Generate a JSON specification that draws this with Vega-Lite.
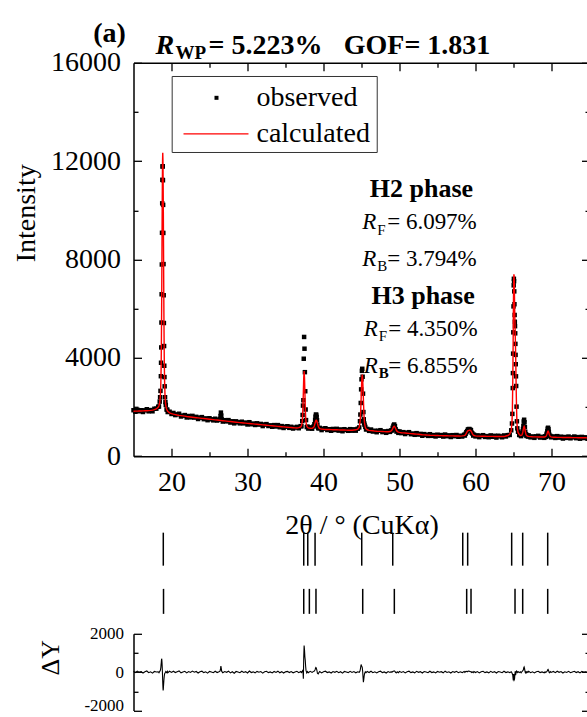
{
  "$schema": "https://vega.github.io/schema/vega-lite/v6.json",
  "padding": {"left": 12.5, "top": 19.8, "right": 0, "bottom": 0},
  "background": "white",
  "config": {
    "view": {"stroke": null},
    "font": "Liberation Serif, Times New Roman, serif",
    "axis": {"grid": false, "domainColor": "black", "tickColor": "black", "labelColor": "black", "titleColor": "black", "labelFont": "Liberation Serif, Times New Roman, serif", "titleFont": "Liberation Serif, Times New Roman, serif", "titleFontWeight": "normal", "domainWidth": 1.5, "tickWidth": 1.3},
    "text": {"font": "Liberation Serif, Times New Roman, serif", "color": "black"}
  },
  "datasets": {
    "xrd": [
      {"x":15,"o":1870,"c":1830,"d":40},{"x":15.25,"o":1807,"c":1832,"d":-25},{"x":15.5,"o":1890,"c":1835,"d":55},{"x":15.75,"o":1827,"c":1837,"d":-10},
      {"x":16,"o":1870,"c":1840,"d":30},{"x":16.25,"o":1798,"c":1843,"d":-45},{"x":16.5,"o":1866,"c":1846,"d":20},{"x":16.75,"o":1909,"c":1849,"d":60},
      {"x":17,"o":1825,"c":1855,"d":-30},{"x":17.25,"o":1877,"c":1862,"d":15},{"x":17.5,"o":1826,"c":1876,"d":-50},{"x":17.75,"o":1929,"c":1894,"d":35},
      {"x":18,"o":1933,"c":1923,"d":10},{"x":18.25,"o":2008,"c":1988,"d":20},{"x":18.35,"o":2023,"c":2053,"d":-30},{"x":18.45,"o":2220,"c":2180,"d":40},
      {"x":18.5,"o":2399,"c":2339,"d":60},{"x":18.55,"o":2657,"c":2537,"d":120},{"x":18.6,"o":3253,"c":3003,"d":250},{"x":18.625,"o":3801,"c":3421,"d":380},
      {"x":18.65,"o":4424,"c":3944,"d":480},{"x":18.675,"o":5436,"c":4836,"d":600},{"x":18.7,"o":6586,"c":5886,"d":700},{"x":18.725,"o":7797,"c":7147,"d":650},
      {"x":18.75,"o":9086,"c":8566,"d":520},{"x":18.775,"o":10284,"c":9984,"d":300},{"x":18.8,"o":11242,"c":11192,"d":50},{"x":18.825,"o":11781,"c":12031,"d":-250},
      {"x":18.85,"o":11793,"c":12343,"d":-550},{"x":18.875,"o":11223,"c":12023,"d":-800},{"x":18.9,"o":10221,"c":11176,"d":-955},{"x":18.925,"o":9080,"c":9960,"d":-880},
      {"x":18.95,"o":7813,"c":8533,"d":-720},{"x":18.975,"o":6546,"c":7106,"d":-560},{"x":19,"o":5417,"c":5837,"d":-420},{"x":19.025,"o":4479,"c":4779,"d":-300},
      {"x":19.05,"o":3679,"c":3879,"d":-200},{"x":19.075,"o":3218,"c":3348,"d":-130},{"x":19.1,"o":2842,"c":2922,"d":-80},{"x":19.15,"o":2399,"c":2439,"d":-40},
      {"x":19.2,"o":2200,"c":2220,"d":-20},{"x":19.25,"o":2084,"c":2054,"d":30},{"x":19.35,"o":1898,"c":1918,"d":-20},{"x":19.45,"o":1890,"c":1850,"d":40},
      {"x":19.5,"o":1796,"c":1826,"d":-30},{"x":19.75,"o":1809,"c":1764,"d":45},{"x":20,"o":1717,"c":1732,"d":-15},
      {"x":20.25,"o":1759,"c":1709,"d":50},{"x":20.5,"o":1672,"c":1692,"d":-20},{"x":20.75,"o":1701,"c":1676,"d":25},{"x":21,"o":1727,"c":1662,"d":65},
      {"x":21.25,"o":1615,"c":1650,"d":-35},{"x":21.5,"o":1649,"c":1639,"d":10},{"x":21.75,"o":1673,"c":1628,"d":45},{"x":22,"o":1575,"c":1615,"d":-40},
      {"x":22.25,"o":1635,"c":1605,"d":30},{"x":22.5,"o":1580,"c":1595,"d":-15},{"x":22.75,"o":1640,"c":1585,"d":55},{"x":23,"o":1570,"c":1575,"d":-5},
      {"x":23.25,"o":1601,"c":1566,"d":35},{"x":23.5,"o":1513,"c":1558,"d":-45},{"x":23.75,"o":1569,"c":1549,"d":20},{"x":24,"o":1590,"c":1540,"d":50},
      {"x":24.25,"o":1506,"c":1531,"d":-25},{"x":24.5,"o":1538,"c":1523,"d":15},{"x":24.75,"o":1464,"c":1514,"d":-50},{"x":25,"o":1545,"c":1505,"d":40},
      {"x":25.25,"o":1501,"c":1496,"d":5},{"x":25.5,"o":1458,"c":1488,"d":-30},{"x":25.75,"o":1524,"c":1479,"d":45},{"x":26,"o":1450,"c":1470,"d":-20},
      {"x":26.25,"o":1486,"c":1461,"d":25},{"x":26.4,"o":1516,"c":1456,"d":60},{"x":26.45,"o":1634,"c":1454,"d":180},{"x":26.5,"o":1773,"c":1453,"d":320},
      {"x":26.55,"o":1651,"c":1451,"d":200},{"x":26.6,"o":1499,"c":1449,"d":50},{"x":26.75,"o":1409,"c":1444,"d":-35},{"x":27,"o":1465,"c":1435,"d":30},
      {"x":27.25,"o":1416,"c":1426,"d":-10},{"x":27.5,"o":1468,"c":1418,"d":50},{"x":27.75,"o":1369,"c":1409,"d":-40},{"x":28,"o":1420,"c":1400,"d":20},
      {"x":28.25,"o":1336,"c":1391,"d":-55},{"x":28.5,"o":1418,"c":1383,"d":35},{"x":28.75,"o":1379,"c":1374,"d":5},{"x":29,"o":1335,"c":1365,"d":-30},
      {"x":29.25,"o":1403,"c":1358,"d":45},{"x":29.5,"o":1335,"c":1350,"d":-15},{"x":29.75,"o":1368,"c":1343,"d":25},{"x":30,"o":1290,"c":1335,"d":-45},
      {"x":30.25,"o":1383,"c":1328,"d":55},{"x":30.5,"o":1300,"c":1320,"d":-20},{"x":30.75,"o":1328,"c":1313,"d":15},{"x":31,"o":1270,"c":1305,"d":-35},
      {"x":31.25,"o":1338,"c":1298,"d":40},{"x":31.5,"o":1285,"c":1290,"d":-5},{"x":31.75,"o":1313,"c":1283,"d":30},{"x":32,"o":1225,"c":1275,"d":-50},
      {"x":32.25,"o":1288,"c":1268,"d":20},{"x":32.5,"o":1305,"c":1260,"d":45},{"x":32.75,"o":1228,"c":1253,"d":-25},{"x":33,"o":1255,"c":1245,"d":10},
      {"x":33.25,"o":1198,"c":1238,"d":-40},{"x":33.5,"o":1265,"c":1230,"d":35},{"x":33.75,"o":1208,"c":1223,"d":-15},{"x":34,"o":1265,"c":1215,"d":50},
      {"x":34.25,"o":1178,"c":1208,"d":-30},{"x":34.5,"o":1225,"c":1200,"d":25},{"x":34.75,"o":1148,"c":1193,"d":-45},{"x":35,"o":1200,"c":1185,"d":15},
      {"x":35.25,"o":1219,"c":1179,"d":40},{"x":35.5,"o":1153,"c":1173,"d":-20},{"x":35.75,"o":1196,"c":1166,"d":30},{"x":36,"o":1125,"c":1160,"d":-35},
      {"x":36.25,"o":1164,"c":1154,"d":10},{"x":36.5,"o":1193,"c":1148,"d":45},{"x":36.75,"o":1137,"c":1162,"d":-25},{"x":37,"o":1221,"c":1191,"d":30},
      {"x":37.1,"o":1218,"c":1238,"d":-20},{"x":37.2,"o":1428,"c":1388,"d":40},{"x":37.25,"o":1677,"c":1597,"d":80},{"x":37.3,"o":2058,"c":2028,"d":30},
      {"x":37.35,"o":2277,"c":2622,"d":-345},{"x":37.4,"o":3964,"c":3204,"d":760},{"x":37.45,"o":4850,"c":3460,"d":1390},{"x":37.5,"o":4372,"c":3202,"d":1170},
      {"x":37.55,"o":3418,"c":2618,"d":800},{"x":37.6,"o":2642,"c":2022,"d":620},{"x":37.65,"o":1899,"c":1589,"d":310},{"x":37.7,"o":1468,"c":1378,"d":90},
      {"x":37.8,"o":1184,"c":1224,"d":-40},{"x":37.9,"o":1203,"c":1173,"d":30},{"x":38,"o":1124,"c":1154,"d":-30},{"x":38.25,"o":1174,"c":1134,"d":40},
      {"x":38.5,"o":1118,"c":1133,"d":-15},{"x":38.7,"o":1210,"c":1170,"d":40},{"x":38.8,"o":1299,"c":1239,"d":60},{"x":38.9,"o":1478,"c":1348,"d":130},
      {"x":38.95,"o":1608,"c":1408,"d":200},{"x":39,"o":1691,"c":1451,"d":240},{"x":39.05,"o":1683,"c":1463,"d":220},{"x":39.1,"o":1598,"c":1448,"d":150},
      {"x":39.15,"o":1463,"c":1403,"d":60},{"x":39.2,"o":1281,"c":1341,"d":-60},{"x":39.3,"o":1139,"c":1229,"d":-90},{"x":39.4,"o":1135,"c":1155,"d":-20},
      {"x":39.5,"o":1152,"c":1122,"d":30},{"x":39.75,"o":1062,"c":1102,"d":-40},{"x":40,"o":1119,"c":1094,"d":25},{"x":40.25,"o":1138,"c":1088,"d":50},
      {"x":40.5,"o":1065,"c":1085,"d":-20},{"x":40.75,"o":1098,"c":1083,"d":15},{"x":41,"o":1035,"c":1080,"d":-45},{"x":41.25,"o":1108,"c":1078,"d":30},
      {"x":41.5,"o":1065,"c":1075,"d":-10},{"x":41.75,"o":1113,"c":1073,"d":40},{"x":42,"o":1040,"c":1070,"d":-30},{"x":42.25,"o":1088,"c":1068,"d":20},
      {"x":42.5,"o":1015,"c":1065,"d":-50},{"x":42.75,"o":1098,"c":1063,"d":35},{"x":43,"o":1065,"c":1060,"d":5},{"x":43.25,"o":1033,"c":1058,"d":-25},
      {"x":43.5,"o":1100,"c":1055,"d":45},{"x":43.75,"o":1038,"c":1053,"d":-15},{"x":44,"o":1093,"c":1063,"d":30},{"x":44.25,"o":1038,"c":1073,"d":-35},
      {"x":44.5,"o":1117,"c":1097,"d":20},{"x":44.7,"o":1170,"c":1180,"d":-10},{"x":44.8,"o":1421,"c":1361,"d":60},{"x":44.85,"o":1694,"c":1544,"d":150},
      {"x":44.9,"o":2165,"c":1885,"d":280},{"x":44.95,"o":2718,"c":2318,"d":400},{"x":45,"o":3126,"c":2796,"d":330},{"x":45.05,"o":3472,"c":3172,"d":300},
      {"x":45.1,"o":3555,"c":3320,"d":235},{"x":45.15,"o":3232,"c":3172,"d":60},{"x":45.2,"o":2544,"c":2794,"d":-250},{"x":45.25,"o":1795,"c":2315,"d":-520},
      {"x":45.3,"o":1501,"c":1881,"d":-380},{"x":45.35,"o":1339,"c":1539,"d":-200},{"x":45.4,"o":1275,"c":1355,"d":-80},{"x":45.5,"o":1192,"c":1172,"d":20},
      {"x":45.6,"o":1086,"c":1116,"d":-30},{"x":45.75,"o":1109,"c":1074,"d":35},{"x":46,"o":1031,"c":1051,"d":-20},{"x":46.25,"o":1085,"c":1040,"d":45},
      {"x":46.5,"o":1003,"c":1033,"d":-30},{"x":46.75,"o":1036,"c":1021,"d":15},{"x":47,"o":975,"c":1015,"d":-40},{"x":47.25,"o":1036,"c":1011,"d":25},
      {"x":47.5,"o":1058,"c":1008,"d":50},{"x":47.75,"o":979,"c":1004,"d":-25},{"x":48,"o":1010,"c":1000,"d":10},{"x":48.25,"o":951,"c":996,"d":-45},
      {"x":48.5,"o":1023,"c":993,"d":30},{"x":48.75,"o":989,"c":1004,"d":-15},{"x":48.9,"o":1046,"c":1026,"d":20},{"x":49,"o":1050,"c":1060,"d":-10},
      {"x":49.1,"o":1153,"c":1123,"d":30},{"x":49.2,"o":1241,"c":1191,"d":50},{"x":49.3,"o":1290,"c":1220,"d":70},{"x":49.4,"o":1226,"c":1186,"d":40},
      {"x":49.5,"o":1093,"c":1113,"d":-20},{"x":49.6,"o":1005,"c":1045,"d":-40},{"x":49.7,"o":1022,"c":1007,"d":15},{"x":49.85,"o":949,"c":979,"d":-30},
      {"x":50,"o":1008,"c":968,"d":40},{"x":50.25,"o":939,"c":954,"d":-15},{"x":50.5,"o":978,"c":948,"d":30},{"x":50.75,"o":901,"c":941,"d":-40},
      {"x":51,"o":955,"c":935,"d":20},{"x":51.25,"o":978,"c":928,"d":50},{"x":51.5,"o":895,"c":920,"d":-25},{"x":51.75,"o":923,"c":913,"d":10},
      {"x":52,"o":870,"c":905,"d":-35},{"x":52.25,"o":938,"c":898,"d":40},{"x":52.5,"o":880,"c":890,"d":-10},{"x":52.75,"o":908,"c":883,"d":25},
      {"x":53,"o":830,"c":875,"d":-45},{"x":53.25,"o":899,"c":869,"d":30},{"x":53.5,"o":868,"c":863,"d":5},{"x":53.75,"o":826,"c":856,"d":-30},
      {"x":54,"o":895,"c":850,"d":45},{"x":54.25,"o":828,"c":848,"d":-20},{"x":54.5,"o":860,"c":845,"d":15},{"x":54.75,"o":803,"c":843,"d":-40},
      {"x":55,"o":875,"c":840,"d":35},{"x":55.25,"o":833,"c":838,"d":-5},{"x":55.5,"o":860,"c":835,"d":25},{"x":55.75,"o":798,"c":833,"d":-35},
      {"x":56,"o":880,"c":830,"d":50},{"x":56.25,"o":814,"c":829,"d":-15},{"x":56.5,"o":848,"c":828,"d":20},{"x":56.75,"o":781,"c":826,"d":-45},
      {"x":57,"o":855,"c":825,"d":30},{"x":57.25,"o":813,"c":823,"d":-10},{"x":57.5,"o":862,"c":822,"d":40},{"x":57.75,"o":790,"c":820,"d":-30},
      {"x":58,"o":833,"c":818,"d":15},{"x":58.25,"o":800,"c":825,"d":-25},{"x":58.5,"o":870,"c":835,"d":35},{"x":58.6,"o":840,"c":850,"d":-10},
      {"x":58.7,"o":910,"c":880,"d":30},{"x":58.8,"o":975,"c":935,"d":40},{"x":58.9,"o":1020,"c":1000,"d":20},{"x":59,"o":1085,"c":1035,"d":50},
      {"x":59.1,"o":1100,"c":1040,"d":60},{"x":59.2,"o":1105,"c":1060,"d":45},{"x":59.3,"o":1075,"c":1055,"d":20},{"x":59.4,"o":1060,"c":1030,"d":30},
      {"x":59.5,"o":955,"c":975,"d":-20},{"x":59.6,"o":920,"c":910,"d":10},{"x":59.7,"o":840,"c":865,"d":-25},{"x":59.8,"o":875,"c":840,"d":35},
      {"x":60,"o":805,"c":825,"d":-20},{"x":60.25,"o":848,"c":818,"d":30},{"x":60.5,"o":775,"c":815,"d":-40},{"x":60.75,"o":833,"c":813,"d":20},
      {"x":61,"o":855,"c":810,"d":45},{"x":61.25,"o":784,"c":809,"d":-25},{"x":61.5,"o":818,"c":808,"d":10},{"x":61.75,"o":772,"c":807,"d":-35},
      {"x":62,"o":846,"c":806,"d":40},{"x":62.25,"o":790,"c":805,"d":-15},{"x":62.5,"o":829,"c":804,"d":25},{"x":62.75,"o":758,"c":803,"d":-45},
      {"x":63,"o":832,"c":802,"d":30},{"x":63.25,"o":806,"c":801,"d":5},{"x":63.5,"o":770,"c":800,"d":-30},{"x":63.75,"o":844,"c":799,"d":45},
      {"x":64,"o":802,"c":822,"d":-20},{"x":64.25,"o":856,"c":841,"d":15},{"x":64.5,"o":864,"c":889,"d":-25},{"x":64.7,"o":1053,"c":1033,"d":20},
      {"x":64.8,"o":1330,"c":1370,"d":-40},{"x":64.85,"o":1721,"c":1821,"d":-100},{"x":64.9,"o":2771,"c":2921,"d":-150},{"x":64.925,"o":3379,"c":3629,"d":-250},
      {"x":64.95,"o":4172,"c":4522,"d":-350},{"x":64.975,"o":5038,"c":5468,"d":-430},{"x":65,"o":6093,"c":6393,"d":-300},{"x":65.025,"o":6949,"c":7049,"d":-100},
      {"x":65.05,"o":7215,"c":7395,"d":-180},{"x":65.075,"o":7118,"c":7368,"d":-250},{"x":65.1,"o":6703,"c":7103,"d":-400},{"x":65.125,"o":6181,"c":6561,"d":-380},
      {"x":65.15,"o":5744,"c":6044,"d":-300},{"x":65.175,"o":5468,"c":5618,"d":-150},{"x":65.2,"o":5288,"c":5348,"d":-60},{"x":65.225,"o":4997,"c":4947,"d":50},
      {"x":65.25,"o":4568,"c":4648,"d":-80},{"x":65.275,"o":4121,"c":4271,"d":-150},{"x":65.3,"o":3741,"c":3841,"d":-100},{"x":65.325,"o":3249,"c":3299,"d":-50},
      {"x":65.35,"o":2855,"c":2815,"d":40},{"x":65.4,"o":2015,"c":1955,"d":60},{"x":65.45,"o":1419,"c":1399,"d":20},{"x":65.5,"o":1133,"c":1153,"d":-20},
      {"x":65.6,"o":995,"c":965,"d":30},{"x":65.75,"o":863,"c":888,"d":-25},{"x":65.9,"o":860,"c":840,"d":20},{"x":66,"o":816,"c":846,"d":-30},
      {"x":66.1,"o":888,"c":863,"d":25},{"x":66.15,"o":932,"c":892,"d":40},{"x":66.2,"o":1003,"c":943,"d":60},{"x":66.25,"o":1106,"c":1016,"d":90},
      {"x":66.3,"o":1226,"c":1106,"d":120},{"x":66.35,"o":1411,"c":1181,"d":230},{"x":66.4,"o":1483,"c":1213,"d":270},{"x":66.45,"o":1380,"c":1180,"d":200},
      {"x":66.5,"o":1183,"c":1103,"d":80},{"x":66.55,"o":991,"c":1011,"d":-20},{"x":66.6,"o":896,"c":936,"d":-40},{"x":66.65,"o":893,"c":883,"d":10},
      {"x":66.7,"o":825,"c":850,"d":-25},{"x":66.8,"o":855,"c":825,"d":30},{"x":66.9,"o":797,"c":812,"d":-15},{"x":67,"o":845,"c":805,"d":40},
      {"x":67.25,"o":767,"c":797,"d":-30},{"x":67.5,"o":805,"c":790,"d":15},{"x":67.75,"o":747,"c":787,"d":-40},{"x":68,"o":809,"c":784,"d":25},
      {"x":68.25,"o":827,"c":782,"d":45},{"x":68.5,"o":759,"c":779,"d":-20},{"x":68.75,"o":788,"c":778,"d":10},{"x":69.05,"o":747,"c":782,"d":-35},
      {"x":69.15,"o":807,"c":787,"d":20},{"x":69.25,"o":786,"c":801,"d":-15},{"x":69.35,"o":881,"c":851,"d":30},{"x":69.4,"o":937,"c":897,"d":40},
      {"x":69.45,"o":1012,"c":952,"d":60},{"x":69.5,"o":1117,"c":997,"d":120},{"x":69.55,"o":1157,"c":1017,"d":140},{"x":69.6,"o":1097,"c":997,"d":100},
      {"x":69.65,"o":991,"c":951,"d":40},{"x":69.7,"o":875,"c":895,"d":-20},{"x":69.75,"o":819,"c":849,"d":-30},{"x":69.85,"o":823,"c":798,"d":25},
      {"x":69.95,"o":768,"c":783,"d":-15},{"x":70.25,"o":804,"c":769,"d":35},{"x":70.5,"o":743,"c":768,"d":-25},{"x":70.75,"o":816,"c":766,"d":50},
      {"x":71,"o":755,"c":765,"d":-10},{"x":71.25,"o":794,"c":764,"d":30},{"x":71.5,"o":718,"c":763,"d":-45},{"x":71.75,"o":781,"c":761,"d":20},
      {"x":72,"o":745,"c":760,"d":-15},{"x":72.25,"o":799,"c":759,"d":40},{"x":72.5,"o":728,"c":758,"d":-30},{"x":72.75,"o":766,"c":756,"d":10},
      {"x":73,"o":800,"c":755,"d":45},{"x":73.25,"o":734,"c":754,"d":-20},{"x":73.5,"o":778,"c":753,"d":25},{"x":73.75,"o":711,"c":751,"d":-40},
      {"x":74,"o":785,"c":750,"d":35},{"x":74.25,"o":739,"c":749,"d":-10},{"x":74.5,"o":768,"c":748,"d":20},{"x":74.75,"o":711,"c":746,"d":-35},
      {"x":75,"o":775,"c":745,"d":30}
    ],
    "refl": [
      {"phase":"H2","x":18.92},{"phase":"H2","x":37.4},{"phase":"H2","x":37.93},{"phase":"H2","x":38.89},{"phase":"H2","x":45.03},{"phase":"H2","x":49.11},
      {"phase":"H2","x":58.32},{"phase":"H2","x":58.97},{"phase":"H2","x":64.76},{"phase":"H2","x":66.21},{"phase":"H2","x":69.5},
      {"phase":"H3","x":18.95},{"phase":"H3","x":37.4},{"phase":"H3","x":38.14},{"phase":"H3","x":39.01},{"phase":"H3","x":45.16},{"phase":"H3","x":49.32},
      {"phase":"H3","x":58.84},{"phase":"H3","x":59.41},{"phase":"H3","x":65.2},{"phase":"H3","x":66.21},{"phase":"H3","x":69.5}
    ]
  },
  "spacing": 10,
  "bounds": "flush",
  "vconcat": [
    {
      "width": 456,
      "height": 393.4,
      "data": {"name": "xrd"},
      "layer": [
        {
          "mark": {"type": "point", "shape": "square", "filled": true, "size": 20, "color": "black", "opacity": 1, "strokeWidth": 0},
          "encoding": {
            "x": {"field": "x", "type": "quantitative", "scale": {"domain": [15, 75], "nice": false, "zero": false},
              "axis": {"orient": "bottom", "values": [20, 30, 40, 50, 60, 70], "tickSize": -8, "labelFontSize": 28, "labelPadding": 20, "labelFlush": false, "format": "d",
                "title": "2θ / ° (CuKα)", "titleFontSize": 28, "titleX": 228, "titleY": 77, "titleBaseline": "alphabetic", "titleAlign": "center"}},
            "y": {"field": "o", "type": "quantitative", "scale": {"domain": [0, 16000], "nice": false, "zero": false},
              "axis": {"orient": "left", "values": [0, 4000, 8000, 12000, 16000], "tickSize": -8, "labelFontSize": 28, "labelPadding": 21, "format": "d",
                "title": "Intensity", "titleFontSize": 28, "titleX": -107, "titleY": 150, "titleAngle": -90, "titleAlign": "center", "titleBaseline": "middle"}}
          }
        },
        {
          "mark": {"type": "line", "color": "#ff0000", "strokeWidth": 1.4},
          "encoding": {
            "x": {"field": "x", "type": "quantitative", "scale": {"domain": [15, 75], "nice": false, "zero": false},
              "axis": {"orient": "top", "values": [20, 30, 40, 50, 60, 70], "tickSize": -8, "labels": false, "title": null}},
            "y": {"field": "c", "type": "quantitative", "scale": {"domain": [0, 16000], "nice": false, "zero": false},
              "axis": {"orient": "right", "values": [0, 4000, 8000, 12000, 16000], "tickSize": -8, "labels": false, "title": null}}
          }
        },
        {
          "data": {"values": [{}]},
          "mark": {"type": "point", "opacity": 0},
          "encoding": {
            "x": {"datum": 15, "type": "quantitative", "scale": {"domain": [15, 75], "nice": false, "zero": false},
              "axis": {"orient": "bottom", "values": [25, 35, 45, 55, 65], "tickSize": -4.5, "labels": false, "domain": false, "title": null}},
            "y": {"datum": 0, "type": "quantitative", "scale": {"domain": [0, 16000], "nice": false, "zero": false},
              "axis": {"orient": "left", "values": [2000, 6000, 10000, 14000], "tickSize": -4.5, "labels": false, "domain": false, "title": null}}
          }
        },
        {
          "data": {"values": [{}]},
          "mark": {"type": "point", "opacity": 0},
          "encoding": {
            "x": {"datum": 15, "type": "quantitative", "scale": {"domain": [15, 75], "nice": false, "zero": false},
              "axis": {"orient": "top", "values": [25, 35, 45, 55, 65], "tickSize": -4.5, "labels": false, "domain": false, "title": null}},
            "y": {"datum": 0, "type": "quantitative", "scale": {"domain": [0, 16000], "nice": false, "zero": false},
              "axis": {"orient": "right", "values": [2000, 6000, 10000, 14000], "tickSize": -4.5, "labels": false, "domain": false, "title": null}}
          }
        },
        {
          "data": {"values": [{}]},
          "mark": {"type": "rect", "fill": "white", "stroke": "#333333", "strokeWidth": 1},
          "encoding": {
            "x": {"datum": 20.09, "type": "quantitative", "axis": null},
            "x2": {"datum": 47.07},
            "y": {"datum": 15443, "type": "quantitative", "axis": null},
            "y2": {"datum": 12352}
          }
        },
        {
          "data": {"values": [{}]},
          "mark": {"type": "point", "shape": "square", "filled": true, "size": 16, "color": "black", "opacity": 1, "strokeWidth": 0},
          "encoding": {
            "x": {"datum": 25.92, "type": "quantitative", "axis": null},
            "y": {"datum": 14576, "type": "quantitative", "axis": null}
          }
        },
        {
          "data": {"values": [{}]},
          "mark": {"type": "rule", "color": "#ff0000", "strokeWidth": 1.3},
          "encoding": {
            "x": {"datum": 21.58, "type": "quantitative", "axis": null},
            "x2": {"datum": 30.13},
            "y": {"datum": 13112, "type": "quantitative", "axis": null}
          }
        },
        {
          "data": {"values": [{"label": "observed", "lx": 31.18, "ly": 14576}, {"label": "calculated", "lx": 31.18, "ly": 13112}]},
          "mark": {"type": "text", "fontSize": 28, "align": "left", "baseline": "middle"},
          "encoding": {
            "x": {"field": "lx", "type": "quantitative", "axis": null},
            "y": {"field": "ly", "type": "quantitative", "axis": null},
            "text": {"field": "label"}
          }
        },
        {
          "data": {"values": [{}]},
          "mark": {"type": "text", "fontSize": 28, "fontWeight": "bold", "align": "left"},
          "encoding": {"x": {"datum": 9.7, "type": "quantitative", "axis": null}, "y": {"datum": 17163, "type": "quantitative", "axis": null}, "text": {"value": "(a)"}}
        },
        {
          "data": {"values": [{}]},
          "mark": {"type": "text", "fontSize": 28, "fontWeight": "bold", "fontStyle": "italic", "align": "left"},
          "encoding": {"x": {"datum": 17.89, "type": "quantitative", "axis": null}, "y": {"datum": 16675, "type": "quantitative", "axis": null}, "text": {"value": "R"}}
        },
        {
          "data": {"values": [{}]},
          "mark": {"type": "text", "fontSize": 19, "fontWeight": "bold", "align": "left"},
          "encoding": {"x": {"datum": 20.53, "type": "quantitative", "axis": null}, "y": {"datum": 16418, "type": "quantitative", "axis": null}, "text": {"value": "WP"}}
        },
        {
          "data": {"values": [{}]},
          "mark": {"type": "text", "fontSize": 28, "fontWeight": "bold", "align": "left"},
          "encoding": {"x": {"datum": 24.87, "type": "quantitative", "axis": null}, "y": {"datum": 16675, "type": "quantitative", "axis": null}, "text": {"value": "= 5.223%"}}
        },
        {
          "data": {"values": [{}]},
          "mark": {"type": "text", "fontSize": 28, "fontWeight": "bold", "align": "left"},
          "encoding": {"x": {"datum": 42.67, "type": "quantitative", "axis": null}, "y": {"datum": 16675, "type": "quantitative", "axis": null}, "text": {"value": "GOF= 1.831"}}
        },
        {
          "data": {"values": [{"label": "H2 phase", "lx": 52.89, "ly": 10848}, {"label": "H3 phase", "lx": 53.11, "ly": 6500}]},
          "mark": {"type": "text", "fontSize": 26, "fontWeight": "bold", "align": "center"},
          "encoding": {"x": {"field": "lx", "type": "quantitative", "axis": null}, "y": {"field": "ly", "type": "quantitative", "axis": null}, "text": {"field": "label"}}
        },
        {
          "data": {"values": [{"label": "R", "lx": 45.09, "ly": 9508}, {"label": "R", "lx": 45.09, "ly": 8020}, {"label": "R", "lx": 45.3, "ly": 5173}, {"label": "R", "lx": 45.3, "ly": 3668}]},
          "mark": {"type": "text", "fontSize": 23, "fontStyle": "italic", "align": "left"},
          "encoding": {"x": {"field": "lx", "type": "quantitative", "axis": null}, "y": {"field": "ly", "type": "quantitative", "axis": null}, "text": {"field": "label"}}
        },
        {
          "data": {"values": [{"label": "F", "lx": 47.07, "ly": 9200}, {"label": "B", "lx": 47.07, "ly": 7735}, {"label": "F", "lx": 47.28, "ly": 4888}]},
          "mark": {"type": "text", "fontSize": 15, "align": "left"},
          "encoding": {"x": {"field": "lx", "type": "quantitative", "axis": null}, "y": {"field": "ly", "type": "quantitative", "axis": null}, "text": {"field": "label"}}
        },
        {
          "data": {"values": [{}]},
          "mark": {"type": "text", "fontSize": 15, "fontWeight": "bold", "align": "left"},
          "encoding": {"x": {"datum": 47.28, "type": "quantitative", "axis": null}, "y": {"datum": 3384, "type": "quantitative", "axis": null}, "text": {"value": "B"}}
        },
        {
          "data": {"values": [{"label": "= 6.097%", "lx": 48.38, "ly": 9508}, {"label": "= 3.794%", "lx": 48.38, "ly": 8020}, {"label": "= 4.350%", "lx": 48.51, "ly": 5173}, {"label": "= 6.855%", "lx": 48.51, "ly": 3668}]},
          "mark": {"type": "text", "fontSize": 23, "align": "left"},
          "encoding": {"x": {"field": "lx", "type": "quantitative", "axis": null}, "y": {"field": "ly", "type": "quantitative", "axis": null}, "text": {"field": "label"}}
        }
      ],
      "resolve": {"axis": {"x": "independent", "y": "independent"}}
    },
    {
      "width": 456,
      "height": 156.6,
      "data": {"name": "refl"},
      "mark": {"type": "tick", "thickness": 1.5, "color": "black", "opacity": 1},
      "encoding": {
        "x": {"field": "x", "type": "quantitative", "scale": {"domain": [15, 75], "nice": false, "zero": false}, "axis": null},
        "y": {"field": "phase", "type": "nominal", "scale": {"type": "point", "domain": ["H2", "H3"], "padding": 1.544, "align": 0.789}, "axis": null},
        "size": {"condition": {"test": "datum.phase === 'H2'", "value": 33}, "value": 25}
      }
    },
    {
      "width": 456,
      "height": 76.7,
      "data": {"name": "xrd"},
      "layer": [
        {
          "mark": {"type": "line", "color": "black", "strokeWidth": 1.1},
          "encoding": {
            "x": {"field": "x", "type": "quantitative", "scale": {"domain": [15, 75], "nice": false, "zero": false}, "axis": null},
            "y": {"field": "d", "type": "quantitative", "scale": {"domain": [-2000, 2000], "nice": false, "zero": false},
              "axis": {"orient": "left", "values": [-2000, 0, 2000], "tickSize": -8, "labelFontSize": 17, "labelPadding": 18, "labelExpr": "'' + datum.value",
                "labelBaseline": {"condition": {"test": "datum.value < 0", "value": "alphabetic"}, "value": "middle"},
                "title": "ΔY", "titleFontSize": 26, "titleX": -83, "titleY": 23.4, "titleAngle": -90, "titleAlign": "center", "titleBaseline": "middle"}}
          }
        },
        {
          "data": {"values": [{}]},
          "mark": {"type": "point", "opacity": 0},
          "encoding": {
            "x": {"datum": 15, "type": "quantitative", "axis": null},
            "y": {"datum": 0, "type": "quantitative", "scale": {"domain": [-2000, 2000], "nice": false, "zero": false},
              "axis": {"orient": "right", "values": [-2000, 0, 2000], "tickSize": -8, "labels": false, "title": null}}
          }
        },
        {
          "data": {"values": [{}]},
          "mark": {"type": "point", "opacity": 0},
          "encoding": {
            "x": {"datum": 15, "type": "quantitative", "axis": null},
            "y": {"datum": 0, "type": "quantitative", "scale": {"domain": [-2000, 2000], "nice": false, "zero": false},
              "axis": {"orient": "left", "values": [-1000, 1000], "tickSize": -4.5, "labels": false, "domain": false, "title": null}}
          }
        },
        {
          "data": {"values": [{}]},
          "mark": {"type": "point", "opacity": 0},
          "encoding": {
            "x": {"datum": 15, "type": "quantitative", "axis": null},
            "y": {"datum": 0, "type": "quantitative", "scale": {"domain": [-2000, 2000], "nice": false, "zero": false},
              "axis": {"orient": "right", "values": [-1000, 1000], "tickSize": -4.5, "labels": false, "domain": false, "title": null}}
          }
        }
      ],
      "resolve": {"axis": {"y": "independent"}}
    }
  ]
}
